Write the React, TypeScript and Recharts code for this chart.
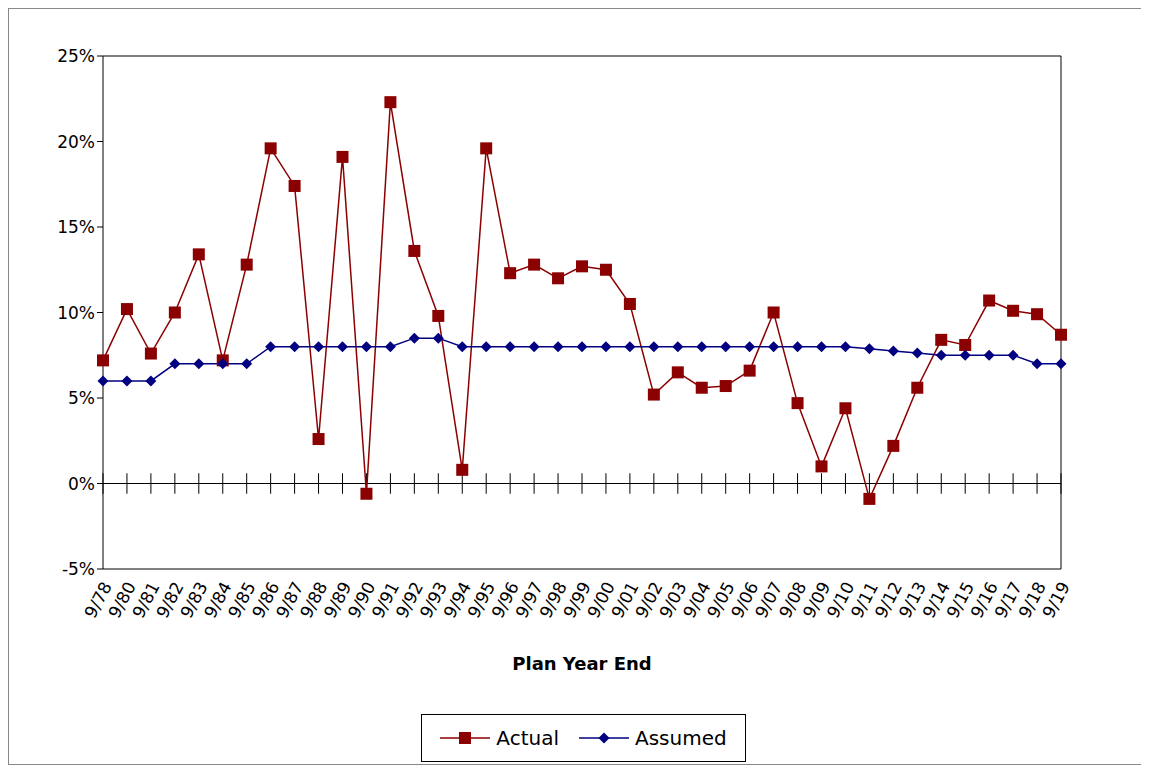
import { LineChart, Line, XAxis, YAxis, ReferenceLine, Legend } from 'recharts'

const years = [
  '9/78', '9/80', '9/81', '9/82', '9/83', '9/84', '9/85', '9/86', '9/87', '9/88', '9/89',
  '9/90', '9/91', '9/92', '9/93', '9/94', '9/95', '9/96', '9/97', '9/98', '9/99',
  '9/00', '9/01', '9/02', '9/03', '9/04', '9/05', '9/06', '9/07', '9/08', '9/09',
  '9/10', '9/11', '9/12', '9/13', '9/14', '9/15', '9/16', '9/17', '9/18', '9/19',
]
const actual = [
  7.2, 10.2, 7.6, 10.0, 13.4, 7.2, 12.8, 19.6, 17.4, 2.6, 19.1,
  -0.6, 22.3, 13.6, 9.8, 0.8, 19.6, 12.3, 12.8, 12.0, 12.7,
  12.5, 10.5, 5.2, 6.5, 5.6, 5.7, 6.6, 10.0, 4.7, 1.0,
  4.4, -0.9, 2.2, 5.6, 8.4, 8.1, 10.7, 10.1, 9.9, 8.7,
]
const assumed = [
  6, 6, 6, 7, 7, 7, 7, 8, 8, 8, 8,
  8, 8, 8.5, 8.5, 8, 8, 8, 8, 8, 8,
  8, 8, 8, 8, 8, 8, 8, 8, 8, 8,
  8, 7.875, 7.75, 7.625, 7.5, 7.5, 7.5, 7.5, 7, 7,
]
const yTicks = [-5, 0, 5, 10, 15, 20, 25]

const data = years.map((year, i) => ({ year, actual: actual[i], assumed: assumed[i] }))

const font = 'DejaVu Sans'
const tickStyle = { fill: '#000', fontSize: 17, fontFamily: font }
const RED = '#8B0000'
const BLUE = '#000080'

function SquareDot(props: any) {
  const { cx, cy } = props
  return <rect x={cx - 6} y={cy - 6} width={12} height={12} fill={RED} />
}

function DiamondDot(props: any) {
  const { cx, cy } = props
  return <path d={`M${cx},${cy - 5.5}L${cx + 5.5},${cy}L${cx},${cy + 5.5}L${cx - 5.5},${cy}Z`} fill={BLUE} />
}

function YearTick(props: any) {
  const { x, y, payload } = props
  return (
    <text x={x + 4} y={y + 6} transform={`rotate(-62, ${x + 4}, ${y + 6})`} textAnchor="end"
      dominantBaseline="central" style={tickStyle}>
      {payload.value}
    </text>
  )
}

function LegendBox() {
  const item = (label: string, color: string, square: boolean) => (
    <span style={{ display: 'inline-flex', alignItems: 'center', margin: '0 10px' }}>
      <svg width={50} height={16} style={{ marginRight: 6 }}>
        <line x1={0} y1={8} x2={50} y2={8} stroke={color} strokeWidth={1.5} />
        {square
          ? <rect x={19} y={2} width={12} height={12} fill={color} />
          : <path d="M25,2.5L30.5,8L25,13.5L19.5,8Z" fill={color} />}
      </svg>
      <span style={{ color: '#000' }}>{label}</span>
    </span>
  )
  return (
    <div style={{ border: '1px solid #000', height: 46, display: 'flex', alignItems: 'center', justifyContent: 'center', fontSize: 20, fontFamily: font }}>
      {item('Actual', RED, true)}
      {item('Assumed', BLUE, false)}
    </div>
  )
}

export default function App() {
  return (
    <div style={{ width: 1135, height: 755, border: '1px solid #888', fontFamily: font, position: 'relative' }}>
      <LineChart width={1135} height={755} data={data}
        margin={{ top: 47, right: 23, left: 34, bottom: 85 }}>
        <XAxis dataKey="year" tick={<YearTick />} interval={0} height={62}
          axisLine={false} tickLine={false}
          label={{ value: 'Plan Year End', position: 'insideBottom', offset: -39, style: { fill: '#000', fontSize: 18, fontWeight: 'bold', fontFamily: font } }} />
        <YAxis yAxisId="l" domain={[-5, 25]} ticks={yTicks} width={60}
          tickFormatter={(v) => `${v}%`} tick={tickStyle} stroke="#000" tickSize={6} />
        <YAxis yAxisId="r" orientation="right" domain={[-5, 25]} ticks={yTicks} width={60}
          tickFormatter={(v) => `${v}%`} tick={tickStyle} stroke="#000" tickSize={6} />
        <ReferenceLine yAxisId="l" y={25} stroke="#000" />
        <ReferenceLine yAxisId="l" y={-5} stroke="#000" />
        <ReferenceLine yAxisId="l" y={0} stroke="#000" />
        {years.map((yr) => (
          <ReferenceLine key={yr} yAxisId="l" stroke="#000"
            segment={[{ x: yr, y: -0.6 }, { x: yr, y: 0.6 }]} />
        ))}
        <Line yAxisId="l" dataKey="actual" name="Actual" stroke={RED} strokeWidth={1.5}
          dot={<SquareDot />} isAnimationActive={false} />
        <Line yAxisId="l" dataKey="assumed" name="Assumed" stroke={BLUE} strokeWidth={1.5}
          dot={<DiamondDot />} isAnimationActive={false} />
        <Legend verticalAlign="bottom" content={<LegendBox />}
          wrapperStyle={{ left: 412, width: 325, bottom: 2 }} />
      </LineChart>
    </div>
  )
}
